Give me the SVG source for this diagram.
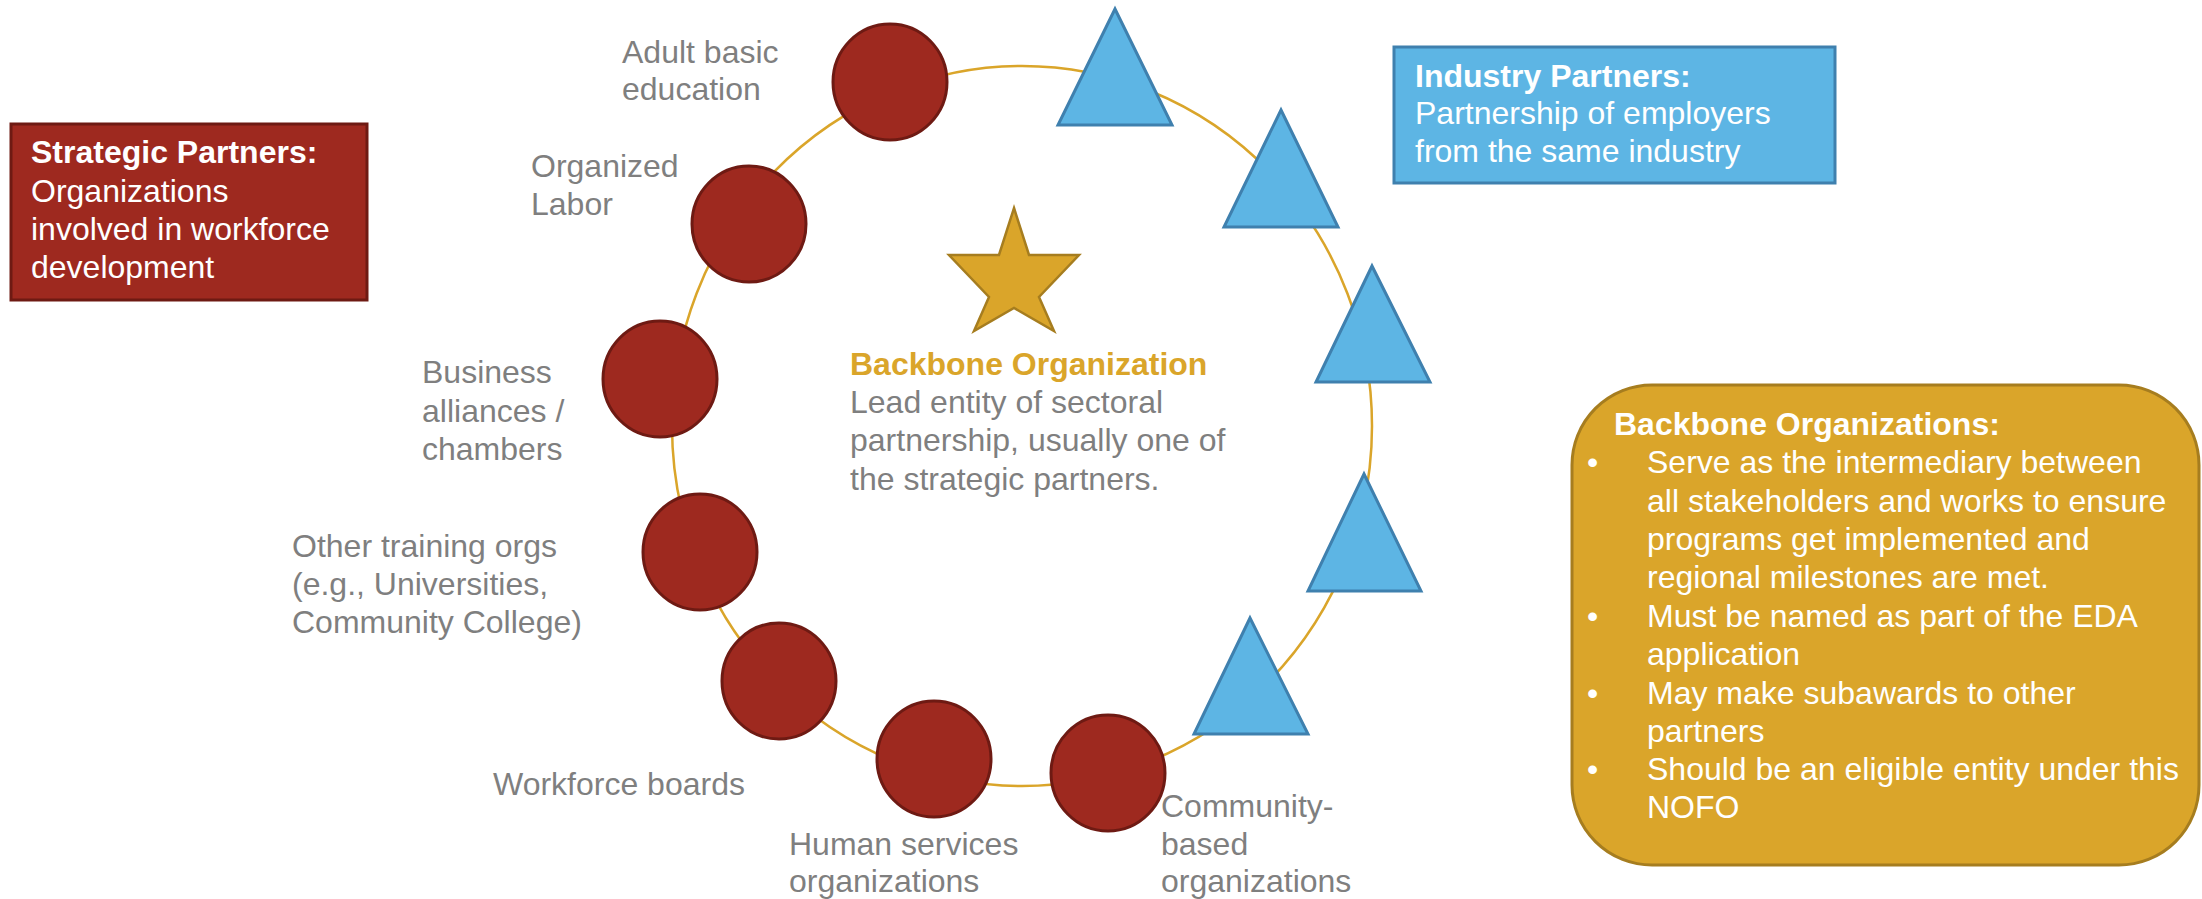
<svg xmlns="http://www.w3.org/2000/svg" width="2202" height="899" viewBox="0 0 2202 899">
  <style>
    text { font-family: "Liberation Sans", Arial, sans-serif; font-size: 32px; }
    .lbl { fill: #7F7F7F; }
    .wt { fill: #FFFFFF; }
    .b { font-weight: bold; }
    .gold { fill: #DAA52A; }
    .org { fill: #9E291F; stroke: #6E1A13; stroke-width: 3; }
    .ind { fill: #5DB5E4; stroke: #3F80AE; stroke-width: 3; }
  </style>
  <rect width="2202" height="899" fill="#FFFFFF"/>

  <!-- ring linking all partners -->
  <g id="connectors">
    <ellipse cx="1022" cy="426" rx="350" ry="360" fill="none" stroke="#DAA52A" stroke-width="2.5"/>
  </g>

  <!-- legend boxes -->
  <g id="strategic-partners">
    <rect x="11" y="124" width="356" height="176" fill="#9E291F" stroke="#6E1A13" stroke-width="3"/>
    <text class="wt b" x="31" y="163">Strategic Partners:</text>
    <text class="wt" x="31" y="202">Organizations</text>
    <text class="wt" x="31" y="240">involved in workforce</text>
    <text class="wt" x="31" y="278">development</text>
  </g>

  <g id="industry-partners">
    <rect x="1394" y="47" width="441" height="136" fill="#5DB5E4" stroke="#3F80AE" stroke-width="3"/>
    <text class="wt b" x="1415" y="87">Industry Partners:</text>
    <text class="wt" x="1415" y="124">Partnership of employers</text>
    <text class="wt" x="1415" y="162">from the same industry</text>
  </g>

  <g id="backbone-organizations">
    <rect x="1572" y="385" width="627" height="480" rx="80" ry="80" fill="#DAA52A" stroke="#A67D1F" stroke-width="3"/>
    <text class="wt b" x="1614" y="435">Backbone Organizations:</text>
    <g class="wt">
      <text class="wt" x="1587" y="473">•</text>
      <text class="wt" x="1647" y="473">Serve as the intermediary between</text>
      <text class="wt" x="1647" y="512">all stakeholders and works to ensure</text>
      <text class="wt" x="1647" y="550">programs get implemented and</text>
      <text class="wt" x="1647" y="588">regional milestones are met.</text>
      <text class="wt" x="1587" y="627">•</text>
      <text class="wt" x="1647" y="627">Must be named as part of the EDA</text>
      <text class="wt" x="1647" y="665">application</text>
      <text class="wt" x="1587" y="704">•</text>
      <text class="wt" x="1647" y="704">May make subawards to other</text>
      <text class="wt" x="1647" y="742">partners</text>
      <text class="wt" x="1587" y="780">•</text>
      <text class="wt" x="1647" y="780">Should be an eligible entity under this</text>
      <text class="wt" x="1647" y="818">NOFO</text>
    </g>
  </g>

  <!-- central backbone star -->
  <g id="backbone-star">
    <polygon points="1014,208 1029,255 1079,255 1039,297 1054,331 1014,308 974,331 989,297 949,255 999,255" fill="#DAA52A" stroke="#A67D1F" stroke-width="2.5"/>
    <text class="gold b" x="850" y="375">Backbone Organization</text>
    <text class="lbl" x="850" y="413">Lead entity of sectoral</text>
    <text class="lbl" x="850" y="451">partnership, usually one of</text>
    <text class="lbl" x="850" y="490">the strategic partners.</text>
  </g>

  <!-- strategic partner nodes -->
  <g id="adult-basic-education">
    <ellipse class="org" cx="890" cy="82" rx="57" ry="58"/>
    <text class="lbl" x="622" y="63">Adult basic</text>
    <text class="lbl" x="622" y="100">education</text>
  </g>
  <g id="organized-labor">
    <ellipse class="org" cx="749" cy="224" rx="57" ry="58"/>
    <text class="lbl" x="531" y="177">Organized</text>
    <text class="lbl" x="531" y="215">Labor</text>
  </g>
  <g id="business-alliances">
    <ellipse class="org" cx="660" cy="379" rx="57" ry="58"/>
    <text class="lbl" x="422" y="383">Business</text>
    <text class="lbl" x="422" y="422">alliances /</text>
    <text class="lbl" x="422" y="460">chambers</text>
  </g>
  <g id="other-training">
    <ellipse class="org" cx="700" cy="552" rx="57" ry="58"/>
    <text class="lbl" x="292" y="557">Other training orgs</text>
    <text class="lbl" x="292" y="595">(e.g., Universities,</text>
    <text class="lbl" x="292" y="633">Community College)</text>
  </g>
  <g id="workforce-boards">
    <ellipse class="org" cx="779" cy="681" rx="57" ry="58"/>
    <text class="lbl" x="493" y="795">Workforce boards</text>
  </g>
  <g id="human-services">
    <ellipse class="org" cx="934" cy="759" rx="57" ry="58"/>
    <text class="lbl" x="789" y="855">Human services</text>
    <text class="lbl" x="789" y="892">organizations</text>
  </g>
  <g id="community-based">
    <ellipse class="org" cx="1108" cy="773" rx="57" ry="58"/>
    <text class="lbl" x="1161" y="817">Community-</text>
    <text class="lbl" x="1161" y="855">based</text>
    <text class="lbl" x="1161" y="892">organizations</text>
  </g>

  <!-- industry partner nodes -->
  <g id="industry-1"><polygon class="ind" points="1115,9 1172,125 1058,125"/></g>
  <g id="industry-2"><polygon class="ind" points="1281,110 1338,227 1224,227"/></g>
  <g id="industry-3"><polygon class="ind" points="1372,266 1430,382 1316,382"/></g>
  <g id="industry-4"><polygon class="ind" points="1364,474 1421,591 1308,591"/></g>
  <g id="industry-5"><polygon class="ind" points="1250,618 1308,734 1194,734"/></g>
</svg>
